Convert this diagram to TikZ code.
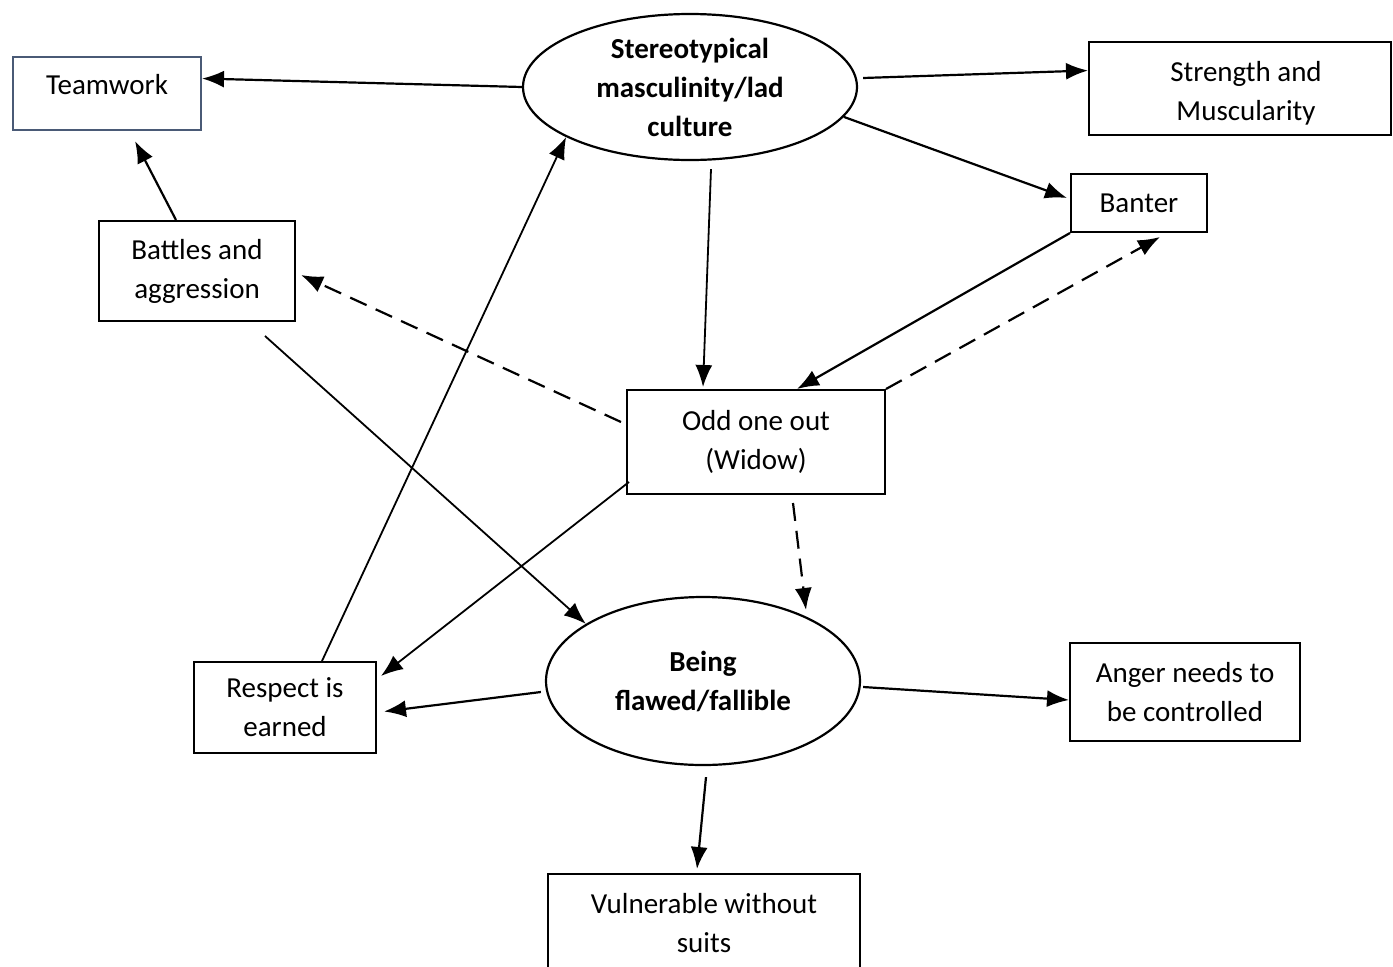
\documentclass[tikz,border=0pt]{standalone}
\usepackage{fontspec}
\setmainfont{Carlito}
\usepackage{tikz}
\usetikzlibrary{shapes,shapes.geometric,arrows,arrows.meta,positioning}

\begin{document}
\begin{tikzpicture}[x=1pt,y=-1pt,
  font=\fontsize{29}{39}\selectfont,
  box/.style={draw,line width=2pt,align=center,inner sep=0pt},
  theme/.style={draw,ellipse,line width=2.2pt,align=center,inner sep=0pt,font=\fontsize{29}{39}\selectfont\bfseries},
  link/.style={line width=2.2pt,-{Latex[length=22pt,width=17pt]}},
  maybe/.style={link,dash pattern=on 18pt off 10pt}]
\useasboundingbox (0,0) rectangle (1393,967);
% themes
\node[theme,minimum width=334pt,minimum height=146pt] (lad) at (690,87) {Stereotypical\\masculinity/lad\\culture};
\node[theme,minimum width=314pt,minimum height=168pt] (flawed) at (703,681) {Being\\flawed/fallible};
% codes
\node[box,draw={rgb,255:red,74;green,90;blue,118},minimum width=188pt,minimum height=73pt,text depth=18pt] (team) at (107,93.5) {Teamwork};
\node[box,minimum width=302pt,minimum height=93pt,text height=68pt] (strength) at (1240,88.5) {\hspace{12pt}Strength and\\\hspace{12pt}Muscularity};
\node[box,minimum width=136pt,minimum height=58pt] (banter) at (1139,203) {Banter};
\node[box,minimum width=196pt,minimum height=100pt] (battles) at (197,271) {Battles and\\aggression};
\node[box,minimum width=258pt,minimum height=104pt] (odd) at (756,442) {Odd one out\\(Widow)};
\node[box,minimum width=182pt,minimum height=91pt] (respect) at (285,707.5) {Respect is\\earned};
\node[box,minimum width=230pt,minimum height=98pt] (anger) at (1185,692) {Anger needs to\\be controlled};
\node[box,minimum width=312pt,minimum height=98pt] (vuln) at (704,923) {Vulnerable without\\suits};
% links
\draw[link] (lad.west) -- ([yshift=15pt]team.east);
\draw[link] ([xshift=5pt,yshift=9pt]lad.east) -- ([yshift=18pt]strength.west);
\draw[link] (lad.-11) -- ([xshift=-3pt,yshift=5pt]banter.west);
\draw[link,line width=1.8pt] ([xshift=21pt,yshift=-8pt]lad.south) -- ([xshift=-53pt,yshift=2pt]odd.north);
\draw[link] (banter.south west) -- ([xshift=41pt]odd.north);
\draw[maybe] (odd.north east) -- ([xshift=21pt,yshift=-4pt]banter.south);
\draw[maybe] ([xshift=-5pt,yshift=20pt]odd.west) -- ([xshift=5pt,yshift=-4pt]battles.east);
\draw[link,line width=1.8pt] ([xshift=3pt,yshift=-40pt]odd.west) -- ([xshift=4pt,yshift=-15pt]respect.north east);
\draw[maybe] ([xshift=37pt,yshift=-8pt]odd.south) -- ([xshift=103pt,yshift=71pt]flawed.center);
\draw[link,line width=1.8pt] ([xshift=68pt,yshift=-14pt]battles.south) -- (flawed.154);
\draw[link,line width=1.8pt] ([xshift=37pt]respect.north) -- (lad.202);
\draw[link] ([xshift=-4pt,yshift=-11pt]flawed.west) -- ([xshift=7pt,yshift=-4pt]respect.east);
\draw[link] ([xshift=2pt,yshift=-6pt]flawed.east) -- ([yshift=-8pt]anger.west);
\draw[link] ([xshift=3pt,yshift=-11pt]flawed.south) -- ([xshift=-7pt,yshift=4pt]vuln.north);
\draw[link] ([xshift=-21pt]battles.north) -- ([xshift=28pt,yshift=-10pt]team.south);
\end{tikzpicture}
\end{document}
